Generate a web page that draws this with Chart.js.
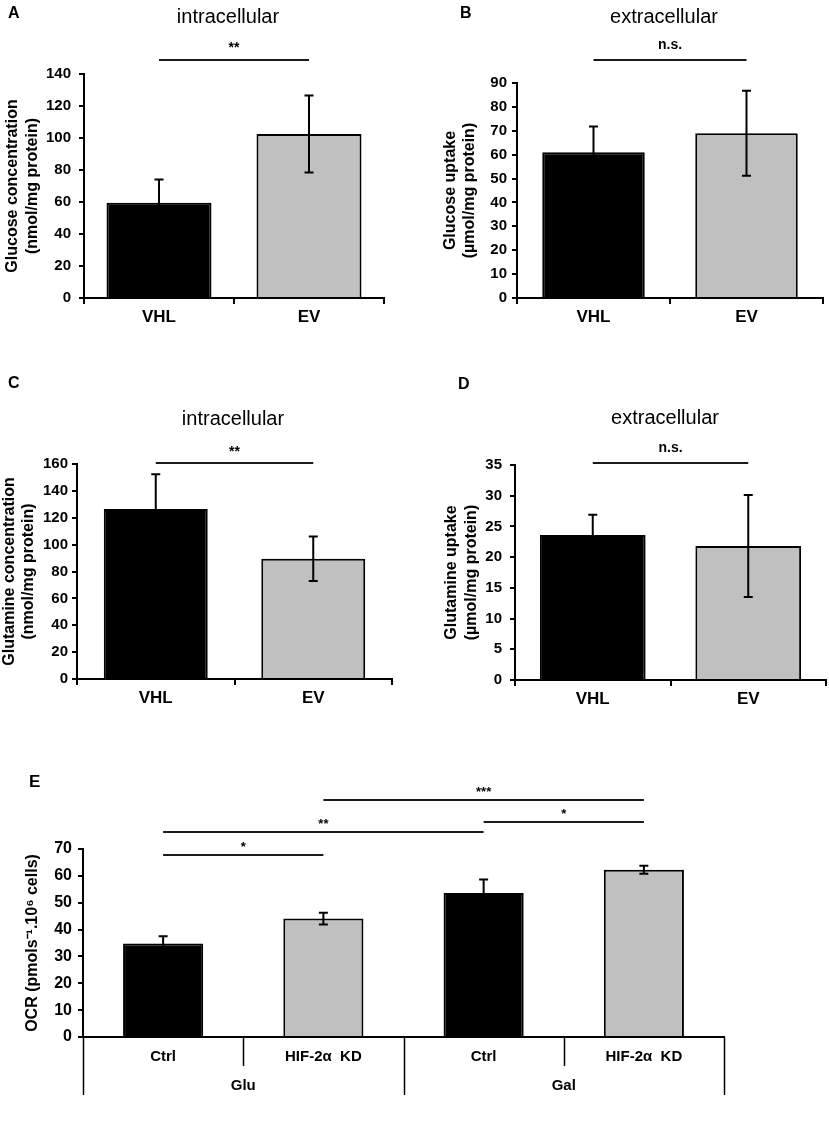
<!DOCTYPE html>
<html>
<head>
<meta charset="utf-8">
<title>Glucose, glutamine and OCR</title>
<script src="https://cdn.jsdelivr.net/npm/chart.js@4.4.1/dist/chart.umd.min.js"></script>
<style>
  html, body { margin: 0; padding: 0; background: #fff; }
  body { width: 829px; height: 1134px; position: relative; overflow: hidden; }
  canvas { position: absolute; }
</style>
</head>
<body>
<canvas id="panelA"></canvas>
<canvas id="panelB"></canvas>
<canvas id="panelC"></canvas>
<canvas id="panelD"></canvas>
<canvas id="panelE"></canvas>
<script>
const FONT = '"Liberation Sans", Arial, sans-serif';
const BLACK = '#000000';
const GREY = '#c0c0c0';

// A - glucose, intracellular
const cellLines = ['VHL', 'EV'];
const glucoseIntra = [59.5, 102.5];
const glucoseIntraErr = [14.5, 24];
const glucoseIntraSig = [[0, 1, '**', 148.8]];

// B - glucose, extracellular (uptake)
const glucoseUptake = [61, 69];
const glucoseUptakeErr = [10.8, 17.8];
const glucoseUptakeSig = [[0, 1, 'n.s.', 99.6]];

// C - glutamine, intracellular
const glutamineIntra = [126.5, 89.5];
const glutamineIntraErr = [25.8, 16.5];
const glutamineIntraSig = [[0, 1, '**', 161]];

// D - glutamine, extracellular (uptake)
const glutamineUptake = [23.6, 21.8];
const glutamineUptakeErr = [3.3, 8.3];
const glutamineUptakeSig = [[0, 1, 'n.s.', 35.4]];

// E - oxygen consumption rate
const ocrConditions = ['Ctrl', 'HIF-2\u03b1  KD', 'Ctrl', 'HIF-2\u03b1  KD'];
const ocrMedia = ['Glu', 'Gal'];
const ocrValues = [34.8, 44.1, 53.6, 62.3];
const ocrErr = [2.7, 2.2, 5.0, 1.5];
const ocrSig = [
  [0, 1, '*', 67.9],
  [0, 2, '**', 76.5],
  [2, 3, '*', 80],
  [1, 3, '***', 88.4]
];

const twoColours = [BLACK, GREY];
const fourColours = [BLACK, GREY, BLACK, GREY];

function annotate(p) {
  return {
    id: 'annotate',
    afterDatasetsDraw(chart) {
      const ctx = chart.ctx;
      const y = chart.scales.y;
      const bars = chart.getDatasetMeta(0).data;
      ctx.save();
      ctx.strokeStyle = BLACK;
      ctx.lineWidth = 2;
      bars.forEach((bar, i) => {
        const top = y.getPixelForValue(p.values[i] + p.errors[i]);
        const bot = y.getPixelForValue(p.values[i] - p.errors[i]);
        ctx.beginPath();
        ctx.moveTo(bar.x, top); ctx.lineTo(bar.x, bot);
        ctx.moveTo(bar.x - 4.5, top); ctx.lineTo(bar.x + 4.5, top);
        ctx.moveTo(bar.x - 4.5, bot); ctx.lineTo(bar.x + 4.5, bot);
        ctx.stroke();
      });
      ctx.restore();
    },
    afterDraw(chart) {
      const ctx = chart.ctx;
      const x = chart.scales.x;
      const y = chart.scales.y;
      ctx.save();
      ctx.fillStyle = BLACK;
      ctx.strokeStyle = '#1a1a1a';
      ctx.lineWidth = 2;
      ctx.textAlign = 'center';
      ctx.textBaseline = 'alphabetic';
      ctx.font = p.sigFont;
      p.sig.forEach(([a, b, txt, level]) => {
        const x1 = x.getPixelForValue(a);
        const x2 = x.getPixelForValue(b);
        const yy = Math.round(y.getPixelForValue(level));
        ctx.beginPath();
        ctx.moveTo(x1, yy); ctx.lineTo(x2, yy);
        ctx.stroke();
        ctx.fillText(txt, (x1 + x2) / 2, yy - p.sigGap);
      });

      if (p.title) {
        ctx.font = '20px ' + FONT;
        ctx.fillText(p.title, p.titleAt[0], p.titleAt[1]);
      }
      ctx.textAlign = 'left';
      ctx.font = p.letterFont;
      ctx.fillText(p.letter, p.letterAt[0], p.letterAt[1]);

      // two-level category axis (panel E): condition row, medium row, separators
      if (p.groups) {
        const half = (x.getPixelForValue(1) - x.getPixelForValue(0)) / 2;
        const base = chart.chartArea.bottom;
        ctx.strokeStyle = BLACK;
        ctx.lineWidth = 1.5;
        ctx.beginPath();
        for (let i = 0; i <= p.labels.length; i++) {
          const bx = Math.round(x.getPixelForValue(i) - half) + 0.5;
          ctx.moveTo(bx, base);
          ctx.lineTo(bx, base + (i % 2 === 0 ? 58 : 29));
        }
        ctx.stroke();
        ctx.textAlign = 'center';
        ctx.textBaseline = 'middle';
        ctx.font = p.groupFont;
        p.labels.forEach((lab, i) => {
          ctx.fillText(lab, x.getPixelForValue(i), base + 20);
        });
        p.groups.forEach((g, i) => {
          ctx.fillText(g, x.getPixelForValue(2 * i + 0.5), base + 49);
        });
      }
      ctx.restore();
    }
  };
}

function makeBarPanel(p) {
  const canvas = document.getElementById(p.id);
  canvas.width = p.box[2];
  canvas.height = p.box[3];
  canvas.style.left = p.box[0] + 'px';
  canvas.style.top = p.box[1] + 'px';
  canvas.style.width = p.box[2] + 'px';
  canvas.style.height = p.box[3] + 'px';

  return new Chart(canvas, {
    type: 'bar',
    data: {
      labels: p.labels,
      datasets: [{
        data: p.values,
        backgroundColor: p.colours,
        borderColor: BLACK,
        borderWidth: 2,
        barPercentage: p.barPct,
        categoryPercentage: 1
      }]
    },
    options: {
      responsive: false,
      animation: false,
      events: [],
      devicePixelRatio: 1,
      layout: { padding: { top: p.padTop, right: p.padRight, left: 0, bottom: 0 } },
      plugins: { legend: { display: false }, tooltip: { enabled: false } },
      scales: {
        x: {
          afterFit: s => { s.height = p.xHeight; },
          grid: { offset: true, drawOnChartArea: false, drawTicks: !p.groups, tickLength: 6, color: BLACK, lineWidth: 2 },
          border: { color: BLACK, width: 2 },
          ticks: { display: !p.groups, color: BLACK, font: p.xFont, padding: 3, autoSkip: false, maxRotation: 0 }
        },
        y: {
          min: 0,
          max: p.yMax,
          afterFit: s => { s.width = p.yWidth; },
          grid: { drawOnChartArea: false, tickLength: 5, color: BLACK, lineWidth: 2 },
          border: { color: BLACK, width: 2 },
          ticks: { stepSize: p.yStep, color: BLACK, padding: p.yPad, font: p.yFont },
          title: {
            display: true,
            text: p.yTitle,
            color: BLACK,
            font: { family: FONT, size: 16, weight: 'bold', lineHeight: p.titleLine + 'px' },
            padding: { top: p.titlePad, bottom: 0 }
          }
        }
      }
    },
    plugins: [annotate(p)]
  });
}

const tickFont = { family: FONT, size: 15, weight: 'bold' };
const catFont = { family: FONT, size: 17, weight: 'bold' };

makeBarPanel({
  id: 'panelA', box: [0, 0, 414, 345],
  labels: cellLines, values: glucoseIntra, errors: glucoseIntraErr, colours: twoColours,
  sig: glucoseIntraSig, sigFont: 'bold 14px ' + FONT, sigGap: 8,
  yMax: 140, yStep: 20, yTitle: ['Glucose concentration', '(nmol/mg protein)'],
  padTop: 74, padRight: 30, yWidth: 84, xHeight: 47, barPct: 0.7,
  xFont: catFont, yFont: tickFont, yPad: 8,
  titleLine: 20, titlePad: 3,
  title: 'intracellular', titleAt: [228, 23],
  letter: 'A', letterAt: [8, 18], letterFont: 'bold 16px ' + FONT
});

makeBarPanel({
  id: 'panelB', box: [414, 0, 415, 345],
  labels: cellLines, values: glucoseUptake, errors: glucoseUptakeErr, colours: twoColours,
  sig: glucoseUptakeSig, sigFont: 'bold 14px ' + FONT, sigGap: 11,
  yMax: 90, yStep: 10, yTitle: ['Glucose uptake', '(\u00b5mol/mg protein)'],
  padTop: 83, padRight: 6, yWidth: 103, xHeight: 47, barPct: 0.67,
  xFont: catFont, yFont: tickFont, yPad: 5,
  titleLine: 19, titlePad: 27,
  title: 'extracellular', titleAt: [250, 23],
  letter: 'B', letterAt: [46, 18], letterFont: 'bold 16px ' + FONT
});

makeBarPanel({
  id: 'panelC', box: [0, 345, 414, 370],
  labels: cellLines, values: glutamineIntra, errors: glutamineIntraErr, colours: twoColours,
  sig: glutamineIntraSig, sigFont: 'bold 14px ' + FONT, sigGap: 7,
  yMax: 160, yStep: 20, yTitle: ['Glutamine concentration', '(nmol/mg protein)'],
  padTop: 119, padRight: 22, yWidth: 77, xHeight: 36, barPct: 0.66,
  xFont: catFont, yFont: tickFont, yPad: 4,
  titleLine: 19, titlePad: 0,
  title: 'intracellular', titleAt: [233, 80],
  letter: 'C', letterAt: [8, 43], letterFont: 'bold 16px ' + FONT
});

makeBarPanel({
  id: 'panelD', box: [414, 345, 415, 370],
  labels: cellLines, values: glutamineUptake, errors: glutamineUptakeErr, colours: twoColours,
  sig: glutamineUptakeSig, sigFont: 'bold 14px ' + FONT, sigGap: 11,
  yMax: 35, yStep: 5, yTitle: ['Glutamine uptake', '(\u00b5mol/mg protein)'],
  padTop: 120, padRight: 3, yWidth: 101, xHeight: 35, barPct: 0.68,
  xFont: catFont, yFont: tickFont, yPad: 8,
  titleLine: 20, titlePad: 28,
  title: 'extracellular', titleAt: [251, 79],
  letter: 'D', letterAt: [44, 44], letterFont: 'bold 16px ' + FONT
});

makeBarPanel({
  id: 'panelE', box: [0, 715, 829, 419],
  labels: ocrConditions, values: ocrValues, errors: ocrErr, colours: fourColours,
  groups: ocrMedia, groupFont: 'bold 15px ' + FONT,
  sig: ocrSig, sigFont: 'bold 13px ' + FONT, sigGap: 4,
  yMax: 70, yStep: 10, yTitle: 'OCR (pmols\u207b\u00b9.10\u2076 cells)',
  padTop: 134, padRight: 105, yWidth: 83, xHeight: 97, barPct: 0.5,
  xFont: { family: FONT, size: 15, weight: 'bold' },
  yFont: { family: FONT, size: 16, weight: 'bold' }, yPad: 6,
  titleLine: 20, titlePad: 23,
  letter: 'E', letterAt: [29, 787 - 715], letterFont: 'bold 17px ' + FONT
});
</script>
</body>
</html>
